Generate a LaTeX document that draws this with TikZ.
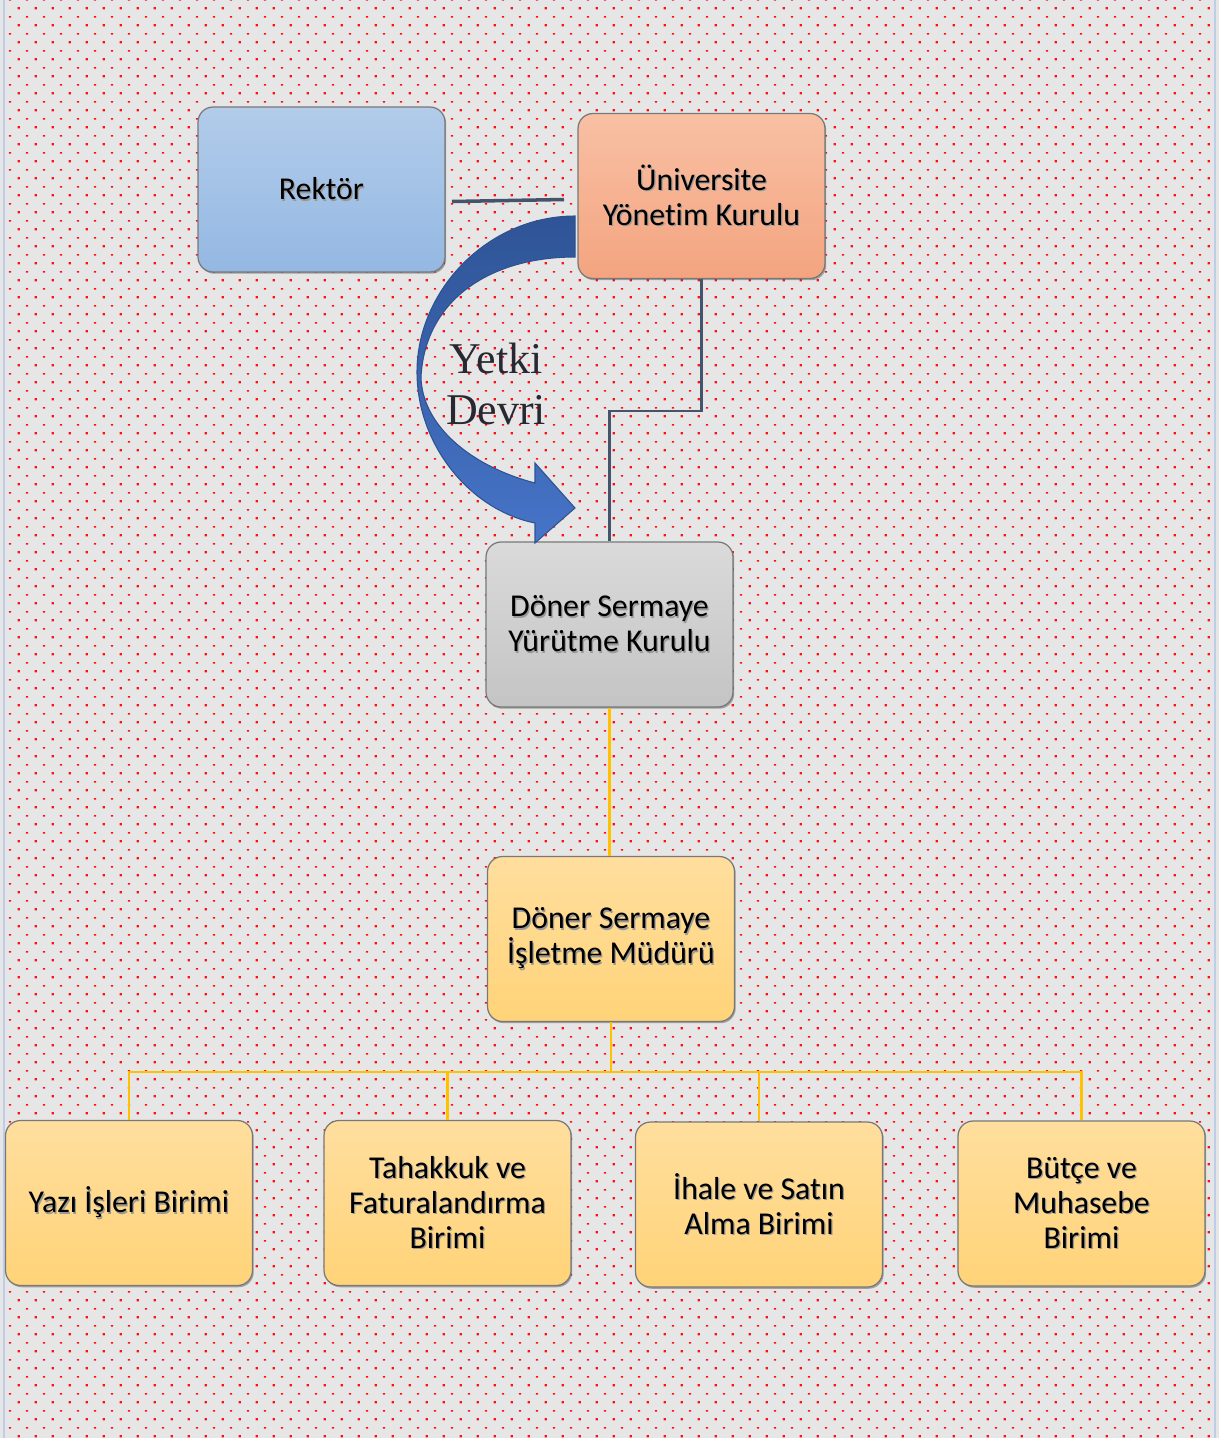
\documentclass[tikz,border=0pt]{standalone}
\usepackage{fontspec}
\setmainfont{Carlito}[Ligatures=NoCommon]
\newfontfamily\timesf{Liberation Serif}
\usetikzlibrary{patterns,shadows,calc}

\pgfdeclarepatternformonly{reddots}{\pgfpointorigin}{\pgfqpoint{9.675pt}{9.675pt}}{\pgfqpoint{9.675pt}{9.675pt}}{%
  \pgfpathrectangle{\pgfqpoint{0.3pt}{0.3pt}}{\pgfqpoint{1.35pt}{1.35pt}}%
  \pgfpathrectangle{\pgfqpoint{5.1pt}{5.4pt}}{\pgfqpoint{1.3pt}{0.8pt}}%
  \pgfusepath{fill}}

\definecolor{bggray}{RGB}{230,230,230}
\definecolor{dotred}{RGB}{255,15,15}
\definecolor{edgeblue}{RGB}{190,205,232}
\definecolor{boxline}{RGB}{120,120,120}
\definecolor{rekA}{RGB}{178,204,234}
\definecolor{rekB}{RGB}{148,184,227}
\definecolor{uykA}{RGB}{248,192,164}
\definecolor{uykB}{RGB}{244,164,127}
\definecolor{gryA}{RGB}{218,218,218}
\definecolor{gryB}{RGB}{196,196,196}
\definecolor{ylwA}{RGB}{255,222,158}
\definecolor{ylwB}{RGB}{255,211,120}
\definecolor{slate}{RGB}{68,84,106}
\definecolor{gold}{RGB}{255,192,0}
\definecolor{arrA}{RGB}{47,84,150}
\definecolor{arrB}{RGB}{70,116,200}
\definecolor{arrline}{RGB}{47,82,143}
\definecolor{ytxt}{RGB}{40,40,50}

\newcommand\shd[1]{\leavevmode\rlap{\kern0.7pt\raisebox{-0.9pt}{\textcolor{black!40}{#1}}}#1}

\tikzset{
  box/.style={rounded corners=0.3cm, draw=boxline, line width=0.7pt,
    align=center, text=black, inner sep=0pt,
    font=\fontsize{18.1}{19.9}\selectfont,
    minimum width=4.94cm, minimum height=3.3cm,
    drop shadow={shadow xshift=0.025cm, shadow yshift=-0.035cm, opacity=0.45, fill=black!70}},
  bluebox/.style={box, top color=rekA, bottom color=rekB},
  peachbox/.style={box, top color=uykA, bottom color=uykB},
  graybox/.style={box, top color=gryA, bottom color=gryB},
  yellowbox/.style={box, top color=ylwA, bottom color=ylwB},
  slateline/.style={draw=slate, line width=1.2pt},
  goldline/.style={draw=gold, line width=1.5pt},
}

\begin{document}
\begin{tikzpicture}[x=0.02cm, y=-0.02cm]
\useasboundingbox (0,0) rectangle (1219,1438);
% background
\fill[bggray] (0,0) rectangle (1219,1438);
\fill[pattern=reddots, pattern color=dotred] (5,0) rectangle (1214,1438);
\draw[edgeblue, line width=1.2pt] (4,0) -- (4,1438);
\draw[edgeblue, line width=1.2pt] (1215,0) -- (1215,1438);

% nodes
\node[bluebox]   (rektor) at (321.5,189.5) {\shd{Rektör}};
\node[peachbox]  (uyk)    at (701.5,196)   {\shd{Üniversite}\\\shd{Yönetim Kurulu}};
\node[graybox]   (dsyk)   at (609.5,624.5) {\shd{Döner Sermaye}\\\shd{Yürütme Kurulu}};
\node[yellowbox] (dsim)   at (611,939)     {\shd{Döner Sermaye}\\\shd{İşletme Müdürü}};
\node[yellowbox] (yazi)   at (129,1203)    {\shd{Yazı İşleri Birimi}};
\node[yellowbox] (tah)    at (447.5,1203)  {\shd{Tahakkuk ve}\\\shd{Faturalandırma}\\\shd{Birimi}};
\node[yellowbox] (ihale)  at (759,1204.5)  {\shd{İhale ve Satın}\\\shd{Alma Birimi}};
\node[yellowbox] (butce)  at (1081.5,1203.5) {\shd{Bütçe ve}\\\shd{Muhasebe}\\\shd{Birimi}};

% Rektor - UYK floating line
\coordinate (rl) at (452,201.5);
\coordinate (ur) at (564,199.5);
\draw[draw=slate, line width=2pt] (rl) -- (ur);

% UYK -> DSYK
\draw[slateline] (uyk.south) -- ++(0,132) -| (dsyk.north);
% DSYK -> DSIM
\draw[goldline] (dsyk.south) -- (dsyk.south |- dsim.north);
% DSIM -> units
\draw[goldline] (dsim.south) -- ++(0,50) -| (yazi.north);
\draw[goldline] (dsim.south) -- ++(0,50) -| (tah.north);
\draw[goldline] (dsim.south) -- ++(0,50) -| (ihale.north);
\draw[goldline] (dsim.south) -- ++(0,50) -| (butce.north);

% curved block arrow
\shade[top color=arrA, bottom color=arrB, draw=arrline, line width=0.6pt]
  (575,216) .. controls (488,216) and (417,290) .. (417,372)
  .. controls (417,445) and (470,510) .. (535,523)
  -- (535,543) -- (575,508) -- (535,463) -- (535,483)
  .. controls (470,466) and (422,425) .. (421,377)
  .. controls (425,300) and (490,257) .. (575,257) -- cycle;

% label
\node[font=\timesf\fontsize{25}{28.5}\selectfont, text=ytxt, align=center] (yd) at (496,384) {Yetki\\Devri};
\end{tikzpicture}
\end{document}
